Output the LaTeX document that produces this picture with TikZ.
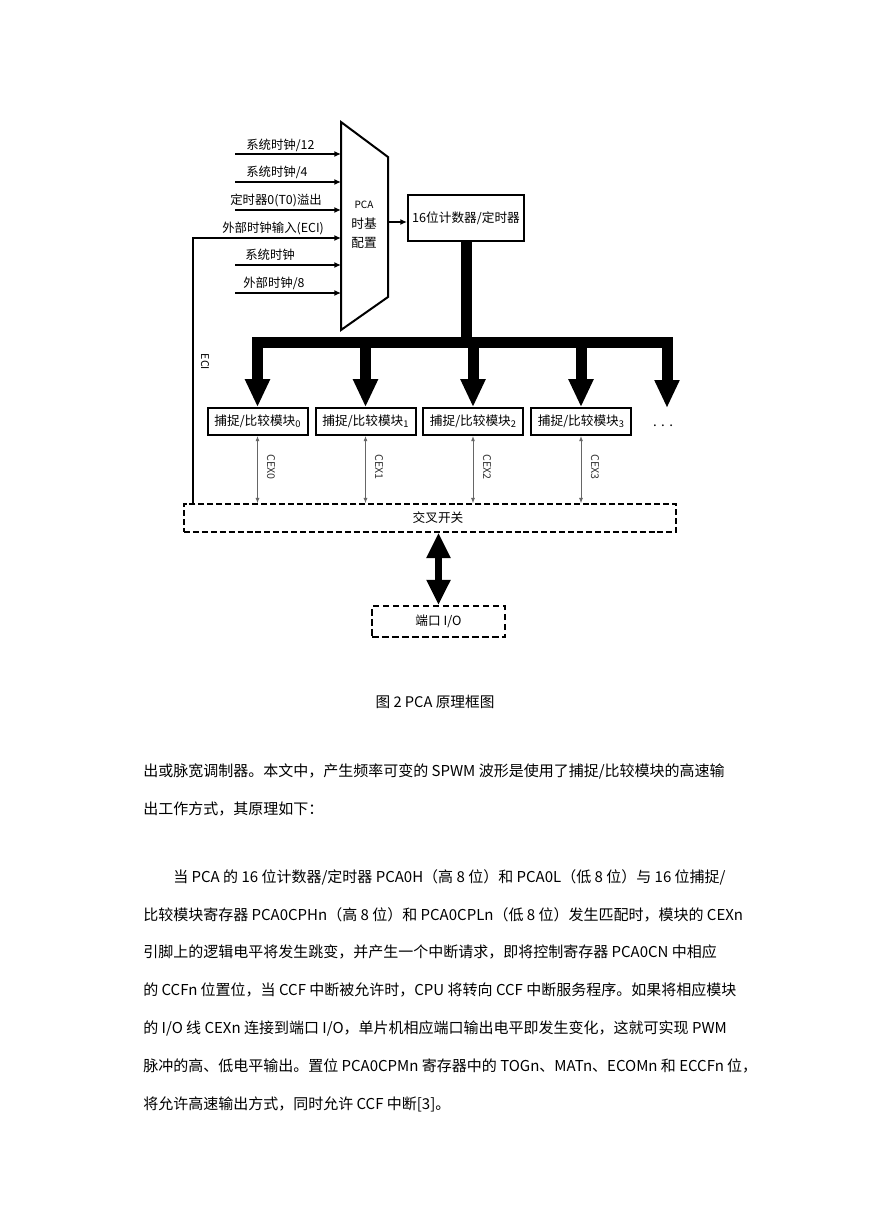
\documentclass[tikz,border=0pt]{standalone}
\usepackage{fontspec}
\setmainfont{Noto Sans CJK SC}
\usetikzlibrary{arrows.meta}
\tikzset{
  lbl/.style={font=\fontsize{9.3pt}{10pt}\selectfont, inner sep=0pt, anchor=west},
  inline/.style={line width=1.5pt, -{Latex[length=5pt,width=4.5pt]}},
  modbox/.style={draw, line width=1.5pt, minimum width=75pt, minimum height=20pt, inner sep=0pt, font=\fontsize{9.5pt}{10pt}\selectfont},
  bus/.style={line width=8.25pt},
  busarrow/.style={line width=8.25pt, -{Triangle[width=17.5pt,length=21pt]}},
  cexarrow/.style={line width=0.7pt, draw=black!60, {Latex[length=4pt,width=3pt]}-{Latex[length=4pt,width=3pt]}},
  cexlbl/.style={font=\fontsize{8pt}{9pt}\selectfont, rotate=-90, inner sep=0pt, text=black!80},
  dashbox/.style={draw, dashed, line width=1.1pt, dash pattern=on 4.5pt off 2.2pt, inner sep=0pt},
  body/.style={font=\fontsize{11.25pt}{12pt}\selectfont, anchor=west, inner sep=0pt},
}
\begin{document}
\begin{tikzpicture}[x=0.75pt,y=-0.75pt]
\path[fill=white,use as bounding box] (0,0) rectangle (869,1228);

% multiplexer
\draw[line width=1.5pt] (341,122) -- (388,157) -- (388,297) -- (341,330) -- cycle;
\node[font=\fontsize{9.5pt}{14.5pt}\selectfont, align=center, inner sep=0pt] (mux) at (364,225) {{\fontsize{7.5pt}{9pt}\selectfont PCA}\\时基\\配置};
\coordinate (muxL) at (341,225);
\coordinate (muxout) at (388,222);

% inputs
\coordinate (i1) at (235,154);
\coordinate (i2) at (235,182);
\coordinate (i3) at (235,210);
\coordinate (i5) at (235,265);
\coordinate (i6) at (235,293);
\draw[inline] (i1) -- (i1 -| muxL);
\draw[inline] (i2) -- (i2 -| muxL);
\draw[inline] (i3) -- (i3 -| muxL);
\draw[inline] (i5) -- (i5 -| muxL);
\draw[inline] (i6) -- (i6 -| muxL);
\node[lbl] (l1) at (246,145) {系统时钟/12};
\node[lbl] (l2) at (246,172) {系统时钟/4};
\node[lbl] (l3) at (230,200) {定时器0(T0)溢出};
\node[lbl] (l4) at (222,228) {外部时钟输入(ECI)};
\node[lbl] (l5) at (245,255) {系统时钟};
\node[lbl] (l6) at (243,283) {外部时钟/8};

% counter/timer
\node[draw, line width=1.5pt, minimum width=87pt, minimum height=34.5pt, inner sep=0pt, font=\fontsize{9.5pt}{10pt}\selectfont] (ctr) at (466,218) {16位计数器/定时器};
\draw[line width=1.5pt, -{Latex[length=5pt,width=4.5pt]}] (muxout) -- (muxout -| ctr.west);

% modules
\node[modbox] (m0) at (257.5,421.5) {捕捉/比较模块\raisebox{-1pt}{\fontsize{7pt}{7pt}\selectfont 0}};
\node[modbox] (m1) at (365.5,421.5) {捕捉/比较模块\raisebox{-1pt}{\fontsize{7pt}{7pt}\selectfont 1}};
\node[modbox] (m2) at (473,421.5) {捕捉/比较模块\raisebox{-1pt}{\fontsize{7pt}{7pt}\selectfont 2}};
\node[modbox] (m3) at (581,421.5) {捕捉/比较模块\raisebox{-1pt}{\fontsize{7pt}{7pt}\selectfont 3}};
\coordinate (m4) at (667,408);
\node[font=\fontsize{10pt}{10pt}\selectfont, inner sep=0pt] (dots) at (663,426) {.\,\,.\,\,.};

% bus
\coordinate (bar) at (0,342.5);
\draw[bus, line join=miter] (m0.north |- 0,370) -- (m0.north |- bar) -- (m4 |- bar) -- (m4 |- 0,370);
\draw[bus] (ctr.south) -- (ctr.south |- bar);
\draw[busarrow] (m0.north |- bar) -- (m0.north);
\draw[busarrow] (m1.north |- bar) -- (m1.north);
\draw[busarrow] (m2.north |- bar) -- (m2.north);
\draw[busarrow] (m3.north |- bar) -- (m3.north);
\draw[busarrow] (m4 |- bar) -- (m4);

% crossbar
\node[dashbox, minimum width=369pt, minimum height=21pt] (xbar) at (430,518) {};
\node[font=\fontsize{9.5pt}{10pt}\selectfont, inner sep=0pt] (xlbl) at (438,518) {交叉开关};

% CEX lines
\draw[cexarrow] (m0.south) -- (m0.south |- xbar.north);
\draw[cexarrow] (m1.south) -- (m1.south |- xbar.north);
\draw[cexarrow] (m2.south) -- (m2.south |- xbar.north);
\draw[cexarrow] (m3.south) -- (m3.south |- xbar.north);
\node[cexlbl] (c0) at (271,467) {CEX0};
\node[cexlbl] (c1) at (379,467) {CEX1};
\node[cexlbl] (c2) at (487,467) {CEX2};
\node[cexlbl] (c3) at (595,467) {CEX3};

% ECI
\coordinate (eci) at (193,238);
\draw[line width=1.5pt, -{Latex[length=5pt,width=4.5pt]}] (eci |- xbar.north) -- (eci) -- (eci -| muxL);
\node[font=\fontsize{8pt}{9pt}\selectfont, rotate=-90, inner sep=0pt] (ecil) at (205,362) {ECI};

% port I/O
\node[dashbox, line width=1.6pt, dash pattern=on 5pt off 2.5pt, minimum width=100pt, minimum height=23pt, font=\fontsize{9.5pt}{10pt}\selectfont] (port) at (438.5,621.5) {端口 I/O};
\draw[line width=5.5pt, {Triangle[width=17pt,length=19pt]}-{Triangle[width=17pt,length=19pt]}] (xbar.south -| port.north) -- (port.north);

% caption
\node[font=\fontsize{11pt}{12pt}\selectfont, inner sep=0pt] (cap) at (435,702) {图 2 PCA 原理框图};

% body text
\node[body] (t1) at (143,771) {出或脉宽调制器。本文中，产生频率可变的 SPWM 波形是使用了捕捉/比较模块的高速输};
\node[body] (t2) at (143,809) {出工作方式，其原理如下：};
\node[body] (p1) at (173,877) {当 PCA 的 16 位计数器/定时器 PCA0H（高 8 位）和 PCA0L（低 8 位）与 16 位捕捉/};
\node[body] (p2) at (143,915) {比较模块寄存器 PCA0CPHn（高 8 位）和 PCA0CPLn（低 8 位）发生匹配时，模块的 CEXn};
\node[body] (p3) at (143,952) {引脚上的逻辑电平将发生跳变，并产生一个中断请求，即将控制寄存器 PCA0CN 中相应};
\node[body] (p4) at (143,990) {的 CCFn 位置位，当 CCF 中断被允许时，CPU 将转向 CCF 中断服务程序。如果将相应模块};
\node[body] (p5) at (143,1028) {的 I/O 线 CEXn 连接到端口 I/O，单片机相应端口输出电平即发生变化，这就可实现 PWM};
\node[body] (p6) at (143,1066) {脉冲的高、低电平输出。置位 PCA0CPMn 寄存器中的 TOGn、MATn、ECOMn 和 ECCFn 位，};
\node[body] (p7) at (143,1104) {将允许高速输出方式，同时允许 CCF 中断[3]。};
\end{tikzpicture}
\end{document}
